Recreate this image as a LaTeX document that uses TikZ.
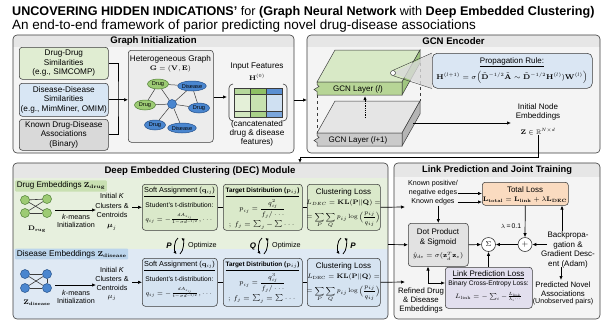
\RequirePackage{fix-cm}
\documentclass[tikz,border=0pt]{standalone}
\usepackage{amsmath,amssymb}
\usepackage[no-math]{fontspec}
\setmainfont{Liberation Sans}
\usetikzlibrary{arrows.meta,calc,shapes.geometric}

\definecolor{edge}{HTML}{3C3C3C}
\definecolor{panelbg}{HTML}{F4F4F4}
\definecolor{panelhd}{HTML}{E6E6E6}
\definecolor{grnbox}{HTML}{E0EDD2}
\definecolor{blubox}{HTML}{D8E6F4}
\definecolor{grybox}{HTML}{D9D9D9}
\definecolor{hgfill}{HTML}{ECECEC}
\definecolor{grnnode}{HTML}{9DCB74}
\definecolor{grnnodeD}{HTML}{4E7F34}
\definecolor{blunode}{HTML}{4A86CF}
\definecolor{blunodeD}{HTML}{24508A}
\definecolor{decgrn}{HTML}{E7F0DE}
\definecolor{decblu}{HTML}{DFE9F4}
\definecolor{decgrnbox}{HTML}{DAE9CA}
\definecolor{decblubox}{HTML}{D5E3F1}
\definecolor{lblgrn}{HTML}{C9E0B2}
\definecolor{lblblu}{HTML}{BCD5EC}
\definecolor{orng}{HTML}{FADBC0}
\definecolor{lilac}{HTML}{E2DFEE}
\definecolor{dpfill}{HTML}{E2E2E2}
\definecolor{propblu}{HTML}{DAE6F3}
\definecolor{layGa}{HTML}{D8E9C6}
\definecolor{layGb}{HTML}{B7D596}
\definecolor{layGc}{HTML}{A0C67F}
\definecolor{layKa}{HTML}{E5E5E5}
\definecolor{layKb}{HTML}{CACACA}
\definecolor{layKc}{HTML}{B5B5B5}
\definecolor{mA}{HTML}{B6D89C}
\definecolor{mB}{HTML}{8FC064}
\definecolor{mC}{HTML}{5A8FD2}
\definecolor{mD}{HTML}{E4F0D8}
\definecolor{mE}{HTML}{C8E2B0}
\definecolor{mF}{HTML}{CFE0F2}
\definecolor{mG}{HTML}{D2E7BF}
\definecolor{mH}{HTML}{A9D189}
\definecolor{mI}{HTML}{7AA6DC}

\tikzset{
  pframe/.style={draw=edge, line width=0.6pt, rounded corners=4pt},
  ibox/.style={draw=edge, line width=0.55pt, rounded corners=3pt, inner sep=0pt, anchor=north west, align=center},
  lbl/.style={inner sep=0pt, align=center},
  hdr/.style={inner sep=0pt, font=\fontsize{9.6}{11}\selectfont\bfseries},
  fa/.style={font=\fontsize{8.2}{9.6}\selectfont},
  fb/.style={font=\fontsize{8}{9.5}\selectfont},
  fc/.style={font=\fontsize{7.2}{8.5}\selectfont},
  fd/.style={font=\fontsize{6.7}{7.5}\selectfont},
  fm/.style={font=\fontsize{6.6}{7.5}\selectfont},
  arr/.style={draw=black, line width=0.7pt, -{Latex[length=4pt,width=3.4pt]}},
  dblarr/.style={draw=black, line width=0.7pt, {Latex[length=4pt,width=3.4pt]}-{Latex[length=4pt,width=3.4pt]}},
  plain/.style={draw=black, line width=0.7pt},
  gnode/.style={ellipse, draw=grnnodeD, fill=grnnode, line width=0.5pt, inner sep=0pt, minimum width=21, minimum height=10, font=\fontsize{5.6}{6}\selectfont},
  bnode/.style={ellipse, draw=blunodeD, fill=blunode, line width=0.5pt, inner sep=0pt, minimum width=21, minimum height=10, font=\fontsize{5.6}{6}\selectfont},
  gdot/.style={circle, draw=grnnodeD, fill=grnnode, minimum size=9, inner sep=0pt, line width=0.5pt},
  bdot/.style={circle, draw=blunodeD, fill=blunode, minimum size=9, inner sep=0pt, line width=0.5pt},
  gedge/.style={draw=edge, line width=0.5pt},
  opcircle/.style={circle, draw=edge, fill=white, minimum size=14, inner sep=0pt, line width=0.6pt},
}

% box with given top-left and bottom-right corners
\newcommand\mkbox[7]{\node[ibox,minimum width={#4-#2},minimum height={#5-#3},#6] (#1) at (#2,#3) {#7};}

% one GCN layer slab drawn from its top edge y
\newcommand\gcnslab[4]{%
  \filldraw[fill=#2, draw=edge, line width=0.5pt] (317,#1+32) -- (335,#1) -- (420,#1) -- (402,#1+32) -- cycle;
  \filldraw[fill=#4, draw=edge, line width=0.5pt] (402,#1+32) -- (420,#1) -- (420,#1+13) -- (402,#1+45) -- cycle;
  \filldraw[fill=#3, draw=edge, line width=0.5pt] (317,#1+32) -- (402,#1+32) -- (402,#1+45) -- (317,#1+45)
     -- (317,#1+41.5) -- (314,#1+39.5) -- (319,#1+36.5) -- (317,#1+34.5) -- cycle;
}

% pair of curved exchange arrows
\newcommand\swaparrows[2]{%
  \draw[line width=0.8pt, -{Latex[length=3pt,width=3pt]}] (#1+4,#2-8) .. controls (#1,#2-6) and (#1,#2+5) .. (#1+2.5,#2+8);
  \draw[line width=0.8pt, -{Latex[length=3pt,width=3pt]}] (#1+6,#2+8) .. controls (#1+10,#2+5) and (#1+10,#2-6) .. (#1+7.5,#2-8);
}

\begin{document}
\begin{tikzpicture}[x=1pt,y=-1pt]
\useasboundingbox (0,0) rectangle (604,322);
\fill[white] (0,0) rectangle (604,322);

% ---------- title ----------
\node[lbl, anchor=base west, font=\fontsize{12.6}{14}\selectfont] (title) at (12,15)
  {\textbf{UNCOVERING HIDDEN INDICATIONS'} for \textbf{(Graph Neural Network} with \textbf{Deep Embedded Clustering)}};
\node[lbl, anchor=base west, font=\fontsize{13.5}{15}\selectfont] (subtitle) at (12,29.5)
  {An end-to-end framework of parior predicting novel drug-disease associations};

% ---------- panels ----------
\begin{scope}
  \clip[rounded corners=4pt] (13,35) rectangle (294,153);
  \fill[panelbg] (13,35) rectangle (294,153);
  \fill[panelhd] (13,35) rectangle (294,47);
\end{scope}
\draw[pframe] (13,35) rectangle (294,153);
\node[hdr] (giT) at (153.5,41.5) {Graph Initialization};

\begin{scope}
  \clip[rounded corners=4pt] (307,35) rectangle (600,153);
  \fill[panelbg] (307,35) rectangle (600,153);
  \fill[panelhd] (307,35) rectangle (600,47);
\end{scope}
\draw[pframe] (307,35) rectangle (600,153);
\node[hdr] (gcnT) at (453.5,41.5) {GCN Encoder};

\begin{scope}
  \clip[rounded corners=4pt] (13,163) rectangle (388,319);
  \fill[panelhd] (13,163) rectangle (388,178);
  \fill[decgrn] (13,178) rectangle (388,249);
  \fill[decblu] (13,249) rectangle (388,319);
\end{scope}
\draw[pframe] (13,163) rectangle (388,319);
\node[hdr] (decT) at (200,171) {Deep Embedded Clustering (DEC) Module};

\begin{scope}
  \clip[rounded corners=4pt] (394,163) rectangle (600,319);
  \fill[panelbg] (394,163) rectangle (600,319);
  \fill[panelhd] (394,163) rectangle (600,177);
\end{scope}
\draw[pframe] (394,163) rectangle (600,319);
\node[hdr, font=\fontsize{9.3}{11}\selectfont\bfseries] (lpT) at (497,170) {Link Prediction and Joint Training};

% ---------- graph initialization ----------
\mkbox{dd}{19}{47}{108}{79}{fill=grnbox,fa}{Drug-Drug\\Similarities\\(e.g., SIMCOMP)}
\mkbox{ds}{19}{83}{108}{116}{fill=blubox,fa}{Disease-Disease\\Similarities\\(e.g., MimMiner, OMIM)}
\mkbox{kn}{19}{119}{108}{150}{fill=grybox,fa}{Known Drug-Disease\\Associations\\(Binary)}

\mkbox{hg}{128}{50}{213}{142}{fill=hgfill}{}
\node[lbl, fa] (hgT) at (170.5,59) {Heterogeneous Graph};
\node[lbl, fm] (hgG) at (170.5,69) {$\mathbf{G}=(\mathbf{V},\mathbf{E})$};

\node[gnode] (g1) at (158,84) {Drug};
\node[bnode, minimum width=27] (g2) at (192,86) {Disease};
\node[gnode] (g3) at (145,105) {Drug};
\node[circle, draw=blunodeD, fill=blunode, minimum size=9, inner sep=0pt, line width=0.5pt] (g0) at (172,104) {};
\node[bnode] (g4) at (199,108) {Drug};
\node[bnode] (g5) at (155,125) {Drug};
\node[bnode, minimum width=27] (g6) at (182,128) {Disease};
\foreach \a/\b in {g1/g2, g1/g3, g1/g0, g2/g0, g2/g4, g3/g0, g0/g4, g0/g5, g0/g6}
  \draw[gedge] (\a) -- (\b);

\coordinate (gj) at (118,99);
\draw[plain] (dd.east) -| (gj) |- (kn.east);
\draw[arr] (ds.east) -- (ds.east -| hg.west);

\node[lbl, fa] (inT) at (257,67) {Input Features};
\node[lbl, fm] (inH) at (257,77.5) {$\mathbf{H}^{(0)}$};
\node[inner sep=0pt, minimum width=48, minimum height=29, anchor=north west] (mat) at (234,88) {};
\fill[mA] (234,88) rectangle (250,94);
\fill[mB] (250,88) rectangle (266,94);
\fill[mC] (266,88) rectangle (282,94);
\fill[mD] (234,94) rectangle (250,111);
\fill[mE] (250,94) rectangle (266,111);
\fill[mF] (266,94) rectangle (282,111);
\fill[mG] (234,111) rectangle (250,117);
\fill[mH] (250,111) rectangle (266,117);
\fill[mI] (266,111) rectangle (282,117);
\draw[edge, line width=0.5pt] (mat.north west) rectangle (mat.south east);
\draw[edge, line width=0.5pt] (250,88) -- (250,117) (266,88) -- (266,117) (234,94) -- (282,94) (234,111) -- (282,111);
\draw[edge, line width=0.6pt, rounded corners=4pt] (233,84) -- (229,84) -- (229,121) -- (233,121);
\draw[edge, line width=0.6pt, rounded corners=4pt] (283,84) -- (287,84) -- (287,121) -- (283,121);
\coordinate (matL) at (227,97);
\draw[arr] (hg.east |- matL) -- (matL);
\node[lbl, font=\fontsize{8.2}{8.8}\selectfont] (cap) at (257,133.5) {(cancatenated\\drug \& disease\\features)};

\coordinate (giE) at (294,100);
\coordinate (gcnW) at (307,100);
\draw[arr] (giE) -- (gcnW);

% ---------- GCN encoder ----------
\draw[edge, dashed, line width=0.5pt] (317,95) -- (317,133);
\draw[edge, dashed, line width=0.5pt] (420,63) -- (420,101);
\gcnslab{101}{layKa}{layKb}{layKc}
\gcnslab{50}{layGa}{layGb}{layGc}
\node[lbl, fb] (lay1) at (358,89) {GCN Layer (\textit{l})};
\node[lbl, fb] (lay2) at (358,140) {GCN Layer (\textit{l}+1)};
\coordinate (upS) at (365,118);
\coordinate (upE) at (365,96);
\draw[densely dotted, line width=0.8pt, -{Latex[length=4pt,width=3.4pt]}] (upS) -- (upE);

\mkbox{prop}{432}{53}{592}{88}{fill=propblu, rounded corners=5pt}{}
\node[circle, minimum size=5, inner sep=0pt] (mag) at (393,73) {};
\fill[black!15, opacity=0.8] (mag.center) -- (prop.north west) -- (prop.south west) -- cycle;
\draw[edge, line width=0.4pt] (mag.north) -- (prop.north west);
\draw[edge, line width=0.4pt] (mag.south) -- (prop.south west);
\node[circle, draw=edge, fill=white, minimum size=5, inner sep=0pt, line width=0.5pt] at (mag) {};
\node[lbl, fb] (propT) at (512,62) {\underline{Propagation Rule:}};
\node[lbl, font=\fontsize{6.9}{8}\selectfont] (propF) at (512,77.5)
  {$\mathbf{H}^{(l+1)}=\sigma\Big(\tilde{\mathbf{D}}^{-1/2}\tilde{\mathbf{A}}\sim\tilde{\mathbf{D}}^{-1/2}\mathbf{H}^{(l)})\mathbf{W}^{(l)}\Big)$};

\node[lbl, fb] (ine) at (538,112) {Initial Node\\Embeddings};
\node[lbl, fm] (zlab) at (538,132) {$\mathbf{Z}\in\mathbb{R}^{N\times d}$};
\coordinate (glE) at (413,123);
\coordinate (zW) at (511,123);
\draw[arr] (glE) -- (zW);

\coordinate (decN) at (300,163);
\draw[arr] (zlab.south) |- ($(decN)+(0,-6)$) -- (decN);

% ---------- DEC module ----------
\node[lbl, fill=lblgrn, anchor=west, inner sep=1.6pt, rounded corners=1pt, font=\fontsize{8.1}{9}\selectfont] (dlab) at (15,186)
  {Drug Embeddings {\fontsize{7}{8}\selectfont$\mathbf{Z}_{\mathbf{drug}}$}};
\node[lbl, fill=lblblu, anchor=west, inner sep=1.6pt, rounded corners=1pt, font=\fontsize{8.3}{9}\selectfont] (slab) at (15,254)
  {Disease Embeddings {\fontsize{7}{8}\selectfont$\mathbf{Z}_{\mathbf{disease}}$}};

\node[gdot] (d1) at (25,200) {};
\node[gdot] (d2) at (47,199) {};
\node[gdot] (d3) at (25,213) {};
\node[gdot] (d4) at (47,213) {};
\foreach \a/\b in {d1/d2, d1/d4, d2/d3, d3/d4}
  \draw[gedge, line width=0.6pt] (\a) -- (\b);
\node[lbl, fm] (dname) at (37,229) {$\mathbf{D}_{\mathbf{rug}}$};

\node[bdot] (e1) at (25,274) {};
\node[bdot] (e2) at (47,274) {};
\node[bdot] (e3) at (25,288) {};
\node[bdot] (e4) at (47,288) {};
\foreach \a/\b in {e1/e2, e1/e4, e2/e3, e3/e4, e2/e4}
  \draw[gedge, line width=0.6pt] (\a) -- (\b);
\node[lbl, fm] (sname) at (37,303) {$\mathbf{Z}_{\mathbf{disease}}$};

\coordinate (kmA) at (55,210);
\coordinate (kmB) at (96,210);
\draw[arr] (kmA) -- (kmB);
\node[lbl, fc] (kmT) at (76,221) {\textit{k}-means\\Initialization};
\coordinate (kmC) at (55,285);
\coordinate (kmD) at (96,285);
\draw[arr] (kmC) -- (kmD);
\node[lbl, fc] (kmT2) at (76,297) {\textit{k}-means\\Initialization};

\node[lbl, font=\fontsize{7.2}{9.6}\selectfont] (ik1) at (112,212) {Initial \textit{K}\\Clusters \&\\Centroids\\$\boldsymbol{\mu}_j$};
\node[lbl, font=\fontsize{7.2}{8.8}\selectfont] (ik2) at (112,284) {Initial \textit{K}\\Clusters \&\\Centroids\\$\mu_j$};

\mkbox{sa1}{142}{184}{217}{230}{fill=decgrnbox}{}
\mkbox{tg1}{223}{184}{302}{230}{fill=decgrnbox}{}
\mkbox{cl1}{307}{184}{380}{230}{fill=decgrnbox}{}
\mkbox{sa2}{142}{258}{217}{306}{fill=decblubox}{}
\mkbox{tg2}{223}{258}{302}{306}{fill=decblubox}{}
\mkbox{cl2}{307}{258}{380}{306}{fill=decblubox}{}

\draw[arr] ($(sa1.west)+(-10,0)$) -- (sa1.west);
\draw[arr] ($(sa2.west)+(-10,0)$) -- (sa2.west);
\draw[plain] (sa1.east) -- (tg1.west);
\draw[plain] (tg1.east) -- (cl1.west);
\draw[plain] (sa2.east) -- (tg2.west);
\draw[plain] (tg2.east) -- (cl2.west);

% soft assignment
\node[lbl, font=\fontsize{7.3}{8}\selectfont] (sa1a) at (179.5,192) {\underline{Soft Assignment ({\fontsize{6.5}{7}\selectfont$\mathbf{q}_{ij}$})}};
\node[lbl, fd] (sa1b) at (179.5,205) {Student's t-distribution:};
\node[lbl, font=\fontsize{6.3}{7}\selectfont] (sa1c) at (179.5,219) {$q_{ij}=-\frac{dA_{x_{ij}}}{1-\sigma d^{-1/2}},\cdots$};
\node[lbl, font=\fontsize{7.3}{8}\selectfont] (sa2a) at (179.5,266) {\underline{Soft Assignment ({\fontsize{6.5}{7}\selectfont$\mathbf{q}_{ij}$})}};
\node[lbl, fd] (sa2b) at (179.5,279) {Student's t-distribution:};
\node[lbl, font=\fontsize{6.3}{7}\selectfont] (sa2c) at (179.5,293) {$q_{ij}=-\frac{dA_{z_{ij}}}{t-\sigma d^{-1/2}},\cdots$};

% target distribution
\node[lbl, font=\fontsize{6.4}{7}\selectfont\bfseries] (tg1a) at (262.5,192) {\underline{Target Distribution ({\fontsize{6}{7}\selectfont$\mathbf{p}_{ij}$})}};
\node[lbl, font=\fontsize{6.5}{8}\selectfont] (tg1b) at (262.5,209) {$p_{ij}=\dfrac{q_{ij}^2}{f_j/\cdots}$};
\node[lbl, font=\fontsize{6.8}{8}\selectfont] (tg1c) at (262.5,225) {$;\,f_j=\sum_j-\sum\cdots$};
\node[lbl, font=\fontsize{6.4}{7}\selectfont\bfseries] (tg2a) at (262.5,266) {\underline{Target Distribution ({\fontsize{6}{7}\selectfont$\mathbf{p}_{ij}$})}};
\node[lbl, font=\fontsize{6.5}{8}\selectfont] (tg2b) at (262.5,283) {$p_{ij}=\dfrac{q_{ij}^3}{f_j/\cdots}$};
\node[lbl, font=\fontsize{6.8}{8}\selectfont] (tg2c) at (262.5,299) {$;\,f_j=\sum_j=\sum\cdots$};

% clustering loss
\node[lbl, fb] (cl1a) at (343.5,192) {Clustering Loss};
\node[lbl, font=\fontsize{6.4}{8}\selectfont] (cl1b) at (343.5,203) {$L_{DEC}=\mathbf{KL}(\mathbf{P}\|\mathbf{Q})=$};
\node[lbl, font=\fontsize{6}{7}\selectfont] (cl1c) at (343.5,220) {$=\displaystyle\sum_P\sum_Q p_{ij}\log\Big(\frac{p_{ij}}{q_{ij}}\Big)$};
\node[lbl, fb] (cl2a) at (343.5,266) {Clustering Loss};
\node[lbl, font=\fontsize{6.4}{8}\selectfont] (cl2b) at (343.5,277) {$L_{\mathrm{DEC}}=\mathbf{KL}(\mathbf{P}\|\mathbf{Q})=$};
\node[lbl, font=\fontsize{6}{7}\selectfont] (cl2c) at (343.5,294) {$=\displaystyle\sum_P\sum_Q p_{ij}\log\Big(\frac{p_{ij}}{q_{ij}}\Big)$};

% optimisation exchanges between the two branches
\node[lbl, font=\fontsize{8}{9}\selectfont\bfseries\itshape] (oP1) at (169,246) {P};
\swaparrows{174}{246}
\node[lbl, fc, anchor=west] (oO1) at (188,246) {Optimize};
\node[lbl, font=\fontsize{8}{9}\selectfont\bfseries\itshape] (oQ) at (253,246) {Q};
\swaparrows{258}{246}
\node[lbl, fc, anchor=west] (oO2) at (272,246) {Optimize};
\swaparrows{337}{246}
\node[lbl, font=\fontsize{8}{9}\selectfont\bfseries\itshape] (oP2) at (353,246) {P};

% ---------- link prediction ----------
\node[lbl, font=\fontsize{7.1}{9}\selectfont] (kpe) at (433,188.5) {Known positive/\\negative edges};
\node[lbl, font=\fontsize{7.1}{9}\selectfont] (ke) at (433,202) {Known edges};

\mkbox{tl}{482}{182}{568}{205}{fill=orng}{}
\node[lbl, fb] (tlT) at (525,189.5) {Total Loss};
\node[lbl, font=\fontsize{6.6}{8}\selectfont] (tlF) at (525,199.5) {$\mathbf{L}_{\mathbf{total}}=\mathbf{L}_{\mathbf{link}}+\lambda\mathbf{L}_{\mathbf{DEC}}$};

\coordinate (negE) at (458,193.5);
\draw[arr] (negE) -- (negE -| tl.west);
\draw[arr] ($(ke.east)+(3,0)$) -- (ke.east -| tl.west);

\mkbox{dp}{408}{223}{468}{266}{fill=dpfill}{}
\node[lbl, fb] (dpA) at (438,232) {Dot Product};
\node[lbl, fb] (dpB) at (438,242) {\& Sigmoid};
\node[lbl, font=\fontsize{6.6}{8}\selectfont] (dpC) at (438,256) {$\hat{y}_{de}=\sigma(\mathbf{z}_d^T\mathbf{z}_e)$};
\draw[arr] (ke.south -| dp.north) -- (dp.north);

\coordinate (lpA) at (405,207);
\draw[arr] (cl1.east) -- (lpA);
\coordinate (decE) at (388,244.5);
\draw[arr] (decE) -- (dp.west);
\coordinate (lpC) at (405,282);
\draw[arr] (cl2.east) -- (lpC);

\node[opcircle, font=\fontsize{7}{8}\selectfont] (sg) at (488.5,244.5) {$\Sigma$};
\node[opcircle, font=\fontsize{8}{9}\selectfont] (pl) at (525,244.5) {$+$};
\draw[arr] (dp.east) -- (sg.west);
\draw[arr] (pl.west) -- (sg.east);
\draw[arr] (tl.south) -- (pl.north);
\node[lbl, font=\fontsize{6.8}{8}\selectfont] (lam) at (511,226) {{\fontsize{6}{7}\selectfont$\lambda$}\,=\,0.1};

\node[lbl, font=\fontsize{8}{9.8}\selectfont] (bp) at (568,250) {Backpropa-\\gation \&\\Gradient Desc-\\ent (Adam)};
\coordinate (bpW) at (547,244.5);
\draw[arr] (bpW) -- (pl.east);
\coordinate (bpU) at (562,231);
\draw[arr] (bpU) -- (bpU |- tl.south);
\coordinate (bpD) at (561,267);
\coordinate (pnN) at (561,280);
\draw[arr] (bpD) -- (pnN);
\node[lbl, font=\fontsize{7.8}{8.6}\selectfont] (pn) at (563,289) {Predicted Novel\\Associations};
\node[lbl, font=\fontsize{7.1}{8}\selectfont] (pn2) at (563,302) {(Unobserved pairs)};

\mkbox{ll}{445}{267}{532}{308}{fill=lilac}{}
\node[lbl, fb] (llA) at (488.5,274.5) {\underline{Link Prediction Loss}};
\node[lbl, font=\fontsize{6.6}{7}\selectfont] (llB) at (488.5,283.5) {Binary Cross-Entropy Loss:};
\node[lbl, font=\fontsize{6.4}{8}\selectfont] (llC) at (488.5,297) {$L_{\mathrm{link}}=-\sum_i-\frac{L_{\mathrm{link}}}{\lambda_i\cdots}$};
\draw[arr] (ll.north -| sg.south) -- (sg.south);

\coordinate (dpll) at (428,283);
\draw[dblarr] (dp.south -| dpll) -- (dpll) -- (dpll -| ll.west);

\node[lbl, font=\fontsize{7.8}{9}\selectfont] (rf) at (421,300) {Refined Drug\\\& Disease\\Embeddings};
\end{tikzpicture}
\end{document}
